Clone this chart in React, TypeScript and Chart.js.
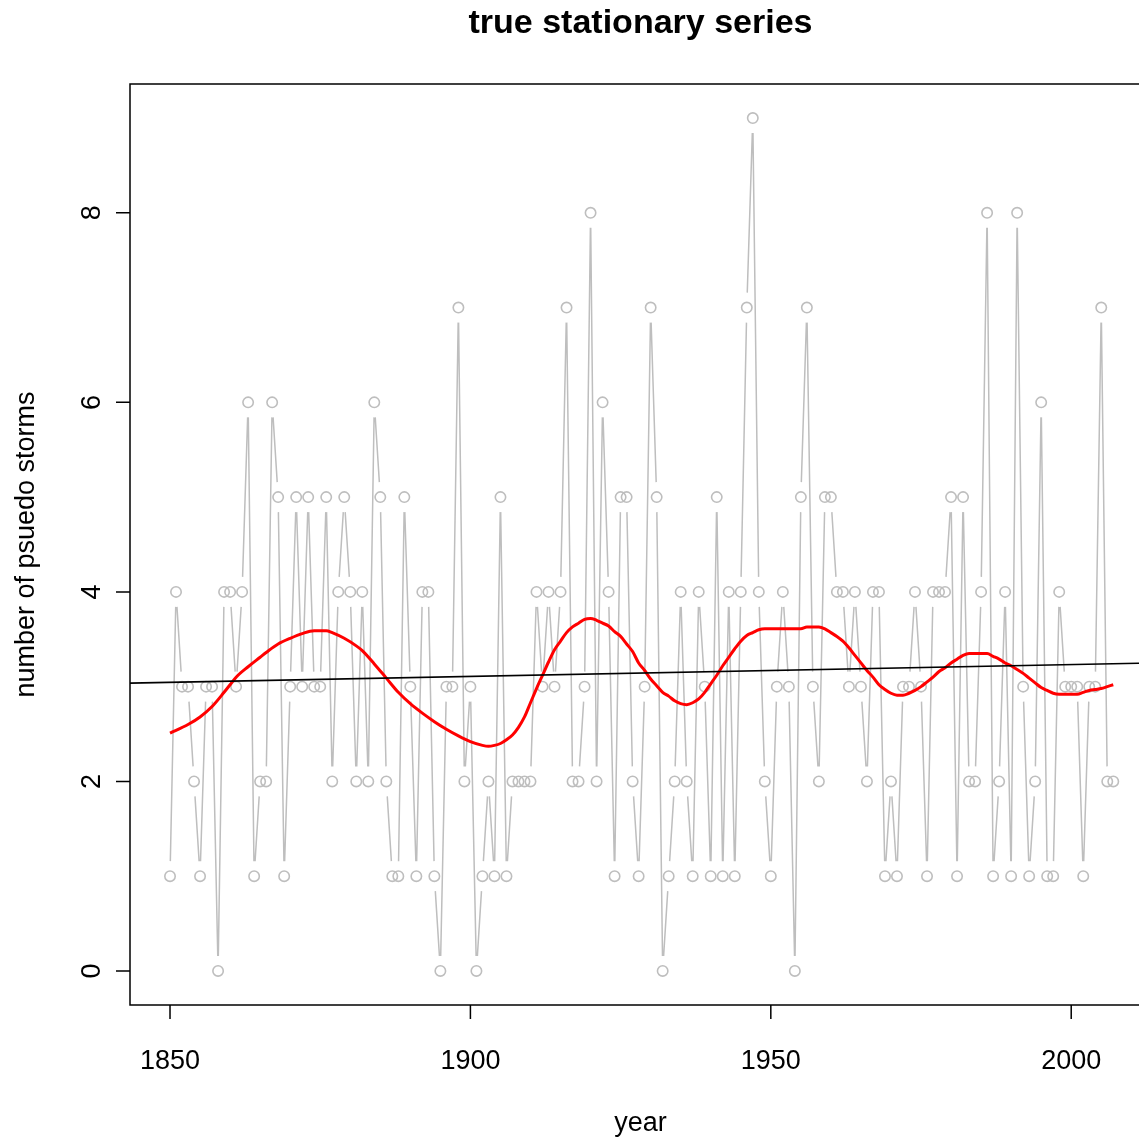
import { useEffect, useRef } from "react";
import { Chart, registerables } from "chart.js";

Chart.register(...registerables);

// Annual counts of pseudo storms, one value per year starting at FIRST_YEAR
const FIRST_YEAR = 1850;
const stormCounts = [
  1, 4, 3, 3, 2, 1, 3, 3, 0, 4,
  4, 3, 4, 6, 1, 2, 2, 6, 5, 1,
  3, 5, 3, 5, 3, 3, 5, 2, 4, 5,
  4, 2, 4, 2, 6, 5, 2, 1, 1, 5,
  3, 1, 4, 4, 1, 0, 3, 3, 7, 2,
  3, 0, 1, 2, 1, 5, 1, 2, 2, 2,
  2, 4, 3, 4, 3, 4, 7, 2, 2, 3,
  8, 2, 6, 4, 1, 5, 5, 2, 1, 3,
  7, 5, 0, 1, 2, 4, 2, 1, 4, 3,
  1, 5, 1, 4, 1, 4, 7, 9, 4, 2,
  1, 3, 4, 3, 0, 5, 7, 3, 2, 5,
  5, 4, 4, 3, 4, 3, 2, 4, 4, 1,
  2, 1, 3, 3, 4, 3, 1, 4, 4, 4,
  5, 1, 5, 2, 2, 4, 8, 1, 2, 4,
  1, 8, 3, 1, 2, 6, 1, 1, 4, 3,
  3, 3, 1, 3, 3, 7, 2, 2,
];
const stormYears = stormCounts.map((_, i) => FIRST_YEAR + i);

// Smoothed curve (local regression fit)
const smoothYears = [
  1850, 1853, 1855, 1857, 1859, 1860, 1861, 1863, 1865, 1866, 1868, 1870, 1872, 1874, 1875, 1876, 1877, 1879,
  1881, 1882, 1884, 1886, 1888, 1890, 1892, 1894, 1896, 1898, 1900, 1902, 1903, 1904, 1905, 1906, 1907, 1908,
  1909, 1910, 1911, 1912, 1913, 1914, 1915, 1916, 1917, 1918, 1919, 1920, 1921, 1922, 1923, 1924, 1925, 1926,
  1927, 1928, 1929, 1930, 1931, 1932, 1933, 1934, 1935, 1936, 1937, 1938, 1939, 1940, 1941, 1942, 1943, 1944,
  1945, 1946, 1947, 1948, 1949, 1950, 1955, 1956, 1958, 1959, 1960, 1961, 1962, 1963, 1964, 1965, 1966, 1967,
  1968, 1969, 1970, 1971, 1972, 1973, 1974, 1975, 1976, 1977, 1978, 1979, 1980, 1981, 1982, 1983, 1986, 1987,
  1988, 1989, 1990, 1991, 1992, 1993, 1994, 1995, 1996, 1997, 1998, 2000, 2001, 2002, 2003, 2004, 2005, 2006,
  2007,
];
const smoothValues = [
  2.51, 2.6, 2.68, 2.79, 2.94, 3.02, 3.1, 3.21, 3.31, 3.36, 3.45, 3.51, 3.56, 3.59, 3.59, 3.59, 3.57, 3.51,
  3.43, 3.38, 3.24, 3.09, 2.94, 2.82, 2.72, 2.63, 2.55, 2.48, 2.42, 2.38, 2.37, 2.38, 2.4, 2.44, 2.49, 2.57,
  2.68, 2.83, 2.98, 3.12, 3.26, 3.39, 3.48, 3.57, 3.63, 3.67, 3.71, 3.72, 3.7, 3.67, 3.64, 3.58, 3.53, 3.45,
  3.37, 3.25, 3.17, 3.08, 3.01, 2.94, 2.9, 2.85, 2.82, 2.81, 2.83, 2.87, 2.94, 3.03, 3.12, 3.22, 3.31, 3.4,
  3.48, 3.54, 3.57, 3.6, 3.61, 3.61, 3.61, 3.63, 3.63, 3.61, 3.57, 3.53, 3.48, 3.41, 3.33, 3.25, 3.17, 3.1,
  3.02, 2.97, 2.93, 2.91, 2.91, 2.93, 2.96, 3.0, 3.05, 3.1, 3.16, 3.2, 3.25, 3.29, 3.33, 3.35, 3.35, 3.32,
  3.29, 3.25, 3.22, 3.18, 3.14, 3.09, 3.04, 2.99, 2.96, 2.93, 2.92, 2.92, 2.92, 2.94, 2.96, 2.97, 2.98, 3.0,
  3.02,
];

// Linear trend, given at the two ends of the x range
const trendYears = [1843.34, 2013.28];
const trendValues = [3.037, 3.25];

// Axis ticks
const xTicks = [1850, 1900, 1950, 2000];
const yTicks = [0, 2, 4, 6, 8];

const TITLE = "true stationary series";
const X_TITLE = "year";
const Y_TITLE = "number of psuedo storms";

const FONT = '"Liberation Sans", Arial, Helvetica, sans-serif';
const GREY = "#bebebe";
const CANVAS_W = 1180;
const CANVAS_H = 1141;
const GAP = 15;

// Line segments between successive points, stopped short of each marker
const gappedLines = {
  id: "gappedLines",
  beforeDatasetsDraw(chart: any) {
    const meta = chart.getDatasetMeta(2);
    const pts = meta.data;
    const ctx = chart.ctx;
    const a = chart.chartArea;
    ctx.save();
    ctx.beginPath();
    ctx.rect(a.left, a.top, a.right - a.left, a.bottom - a.top);
    ctx.clip();
    ctx.strokeStyle = GREY;
    ctx.lineWidth = 1.5;
    ctx.beginPath();
    for (let i = 0; i < pts.length - 1; i++) {
      const p0 = pts[i];
      const p1 = pts[i + 1];
      const dx = p1.x - p0.x;
      const dy = p1.y - p0.y;
      const len = Math.hypot(dx, dy);
      if (len <= 2 * GAP) continue;
      const ux = dx / len;
      const uy = dy / len;
      ctx.moveTo(p0.x + ux * GAP, p0.y + uy * GAP);
      ctx.lineTo(p1.x - ux * GAP, p1.y - uy * GAP);
    }
    ctx.stroke();
    ctx.restore();
  },
};

// Box, ticks, tick labels and titles
const frame = {
  id: "frame",
  afterDraw(chart: any) {
    const ctx = chart.ctx;
    const a = chart.chartArea;
    const xs = chart.scales.x;
    const ys = chart.scales.y;
    const tick = 14;
    ctx.save();
    ctx.strokeStyle = "#000";
    ctx.fillStyle = "#000";
    ctx.lineWidth = 1.5;
    ctx.strokeRect(a.left, a.top, a.right - a.left, a.bottom - a.top);

    ctx.beginPath();
    xTicks.forEach((t) => {
      const x = xs.getPixelForValue(t);
      ctx.moveTo(x, a.bottom);
      ctx.lineTo(x, a.bottom + tick);
    });
    yTicks.forEach((t) => {
      const y = ys.getPixelForValue(t);
      ctx.moveTo(a.left, y);
      ctx.lineTo(a.left - tick, y);
    });
    ctx.stroke();

    ctx.font = `27px ${FONT}`;
    ctx.textAlign = "center";
    ctx.textBaseline = "alphabetic";
    xTicks.forEach((t) => {
      ctx.fillText(String(t), xs.getPixelForValue(t), 1069);
    });
    yTicks.forEach((t) => {
      ctx.save();
      ctx.translate(100, ys.getPixelForValue(t));
      ctx.rotate(-Math.PI / 2);
      ctx.fillText(String(t), 0, 0);
      ctx.restore();
    });

    const midX = (a.left + a.right) / 2;
    const midY = (a.top + a.bottom) / 2;
    ctx.fillText(X_TITLE, midX, 1131);
    ctx.save();
    ctx.translate(34, midY);
    ctx.rotate(-Math.PI / 2);
    ctx.fillText(Y_TITLE, 0, 0);
    ctx.restore();

    ctx.font = `bold 34px ${FONT}`;
    ctx.fillText(TITLE, midX, 33);
    ctx.restore();
  },
};

export default function App() {
  const canvasRef = useRef<HTMLCanvasElement | null>(null);

  useEffect(() => {
    const canvas = canvasRef.current;
    if (!canvas) return;
    const chart = new Chart(canvas, {
      type: "line",
      data: {
        datasets: [
          {
            label: "trend",
            data: trendYears.map((x, i) => ({ x, y: trendValues[i] })),
            borderColor: "#000",
            borderWidth: 1.6,
            pointRadius: 0,
            tension: 0,
          },
          {
            label: "smooth",
            data: smoothYears.map((x, i) => ({ x, y: smoothValues[i] })),
            borderColor: "#ff0000",
            borderWidth: 3,
            pointRadius: 0,
            cubicInterpolationMode: "monotone",
          },
          {
            label: "storms",
            data: stormYears.map((x, i) => ({ x, y: stormCounts[i] })),
            showLine: false,
            pointRadius: 5.2,
            pointBorderWidth: 1.6,
            pointBorderColor: GREY,
            pointBackgroundColor: "rgba(0,0,0,0)",
            pointHoverRadius: 5.2,
          },
        ],
      },
      options: {
        responsive: false,
        animation: false,
        events: [],
        layout: {
          padding: { left: 130, top: 84, right: CANVAS_W - 1151, bottom: CANVAS_H - 1005 },
        },
        plugins: {
          legend: { display: false },
          tooltip: { enabled: false },
          title: { display: false },
        },
        scales: {
          x: { type: "linear", min: 1843.34, max: 2013.28, display: false },
          y: { type: "linear", min: -0.36, max: 9.36, display: false },
        },
      },
      plugins: [gappedLines, frame],
    });
    return () => chart.destroy();
  }, []);

  return (
    <div
      style={{
        position: "fixed",
        left: 0,
        top: 0,
        width: 1139,
        height: 1141,
        overflow: "hidden",
        background: "#fff",
      }}
    >
      <canvas ref={canvasRef} width={CANVAS_W} height={CANVAS_H} style={{ display: "block" }} />
    </div>
  );
}
